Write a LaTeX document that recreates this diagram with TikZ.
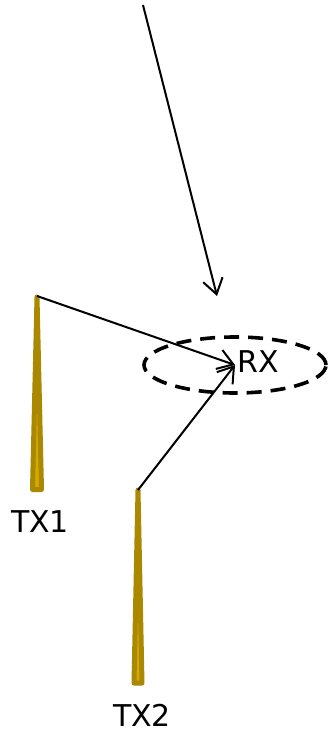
\documentclass[tikz,border=0pt]{standalone}
\usepackage{fontspec}
\setmainfont{DejaVu Sans}
\usetikzlibrary{shapes.geometric, arrows.meta, positioning}
\definecolor{towerline}{HTML}{AA8800}
\definecolor{towerfill}{HTML}{D4AA00}

\begin{document}
\begin{tikzpicture}[
  x=1pt, y=-1pt,
  font=\fontsize{30}{34}\selectfont,
  mast/.style={draw=towerline, fill=towerfill, line width=5pt, line join=round},
  cell/.style={ellipse, draw=black, line width=3.6pt, dash pattern=on 15pt off 9pt,
               minimum width=182pt, minimum height=56pt, inner sep=0pt},
  lbl/.style={inner sep=0pt, anchor=base},
  arr/.style={-{Straight Barb[length=15pt, width=20pt, line width=2pt]}, line width=2pt, black}
]
  \useasboundingbox (0,0) rectangle (332,731);

  % Masts
  \draw[mast] (37,297) -- (32.5,489.5) -- (41.5,489.5) -- cycle;
  \draw[mast] (138,490) -- (134,683) -- (142,683) -- cycle;

  % Coverage area
  \node[cell] (rxcell) at (235,365) {};

  % Labels
  \node[lbl] (rx) at (258.5,372) {RX};
  \node[lbl] (tx1) at (40,532) {TX1};
  \node[lbl] (tx2) at (142,726) {TX2};

  % Ends of the connectors
  \coordinate (tx1top) at (37,296);
  \coordinate (tx2top) at (138,490);
  \coordinate (skystart) at (143,5);
  \coordinate (skyend) at (217,296);

  % Arrows
  \draw[arr] (skystart) -- (skyend);
  \draw[arr] (tx1top) -- (rxcell.center);
  \draw[arr] (tx2top) -- (rxcell.center);
\end{tikzpicture}
\end{document}
